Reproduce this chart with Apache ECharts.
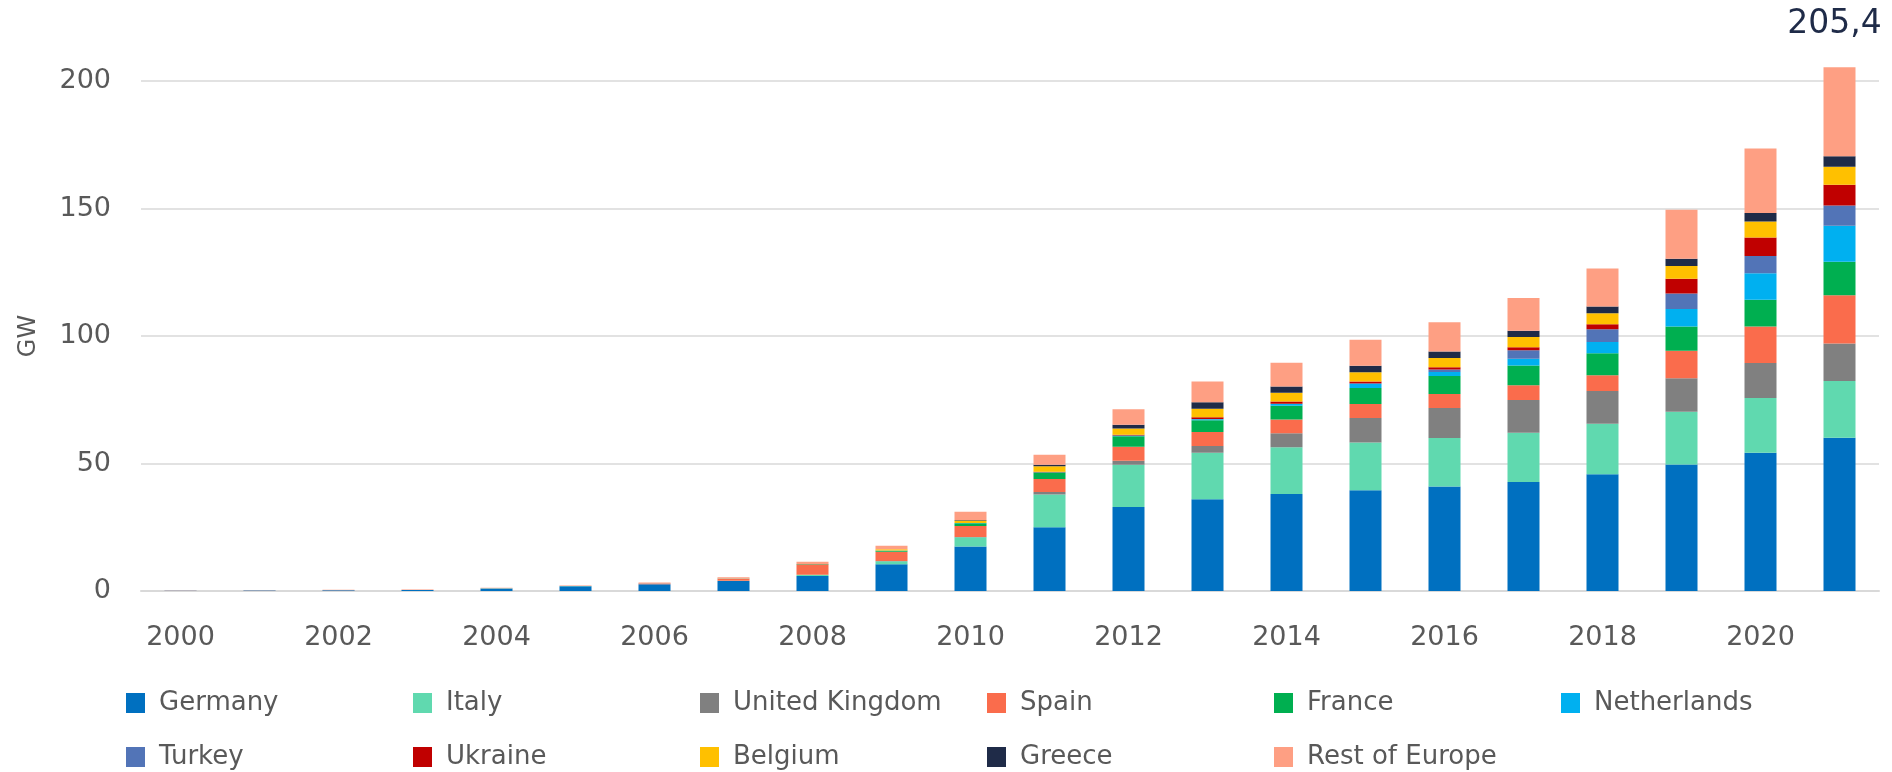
<!DOCTYPE html>
<html>
<head>
<meta charset="utf-8">
<script src="https://cdn.jsdelivr.net/npm/echarts@6/dist/echarts.min.js"></script>
<style>html,body{margin:0;padding:0;background:#fff}#c{width:1892px;height:772px}</style>
</head>
<body>
<div id="c"></div>
<script>
const years = ['2000','2001','2002','2003','2004','2005','2006','2007','2008','2009','2010','2011','2012','2013','2014','2015','2016','2017','2018','2019','2020','2021'];
const germany     = [0.08,0.18,0.3,0.4,1.0,1.9,2.6,3.9,5.9,10.5,17.5,25.0,32.9,36.0,38.0,39.5,41.0,42.7,45.8,49.6,54.2,60.1];
const italy       = [0.02,0.02,0.02,0.03,0.03,0.04,0.05,0.1,0.5,1.2,3.6,12.8,16.6,18.2,18.4,18.7,19.0,19.4,19.8,20.7,21.5,22.3];
const uk          = [0,0,0,0.01,0.01,0.01,0.01,0.02,0.02,0.03,0.1,1.0,1.6,2.7,5.5,9.6,11.8,12.8,12.8,13.1,13.7,14.7];
const spain       = [0.01,0.01,0.02,0.03,0.05,0.06,0.2,0.8,3.9,3.7,4.3,5.1,5.5,5.5,5.4,5.5,5.5,5.8,6.2,10.8,14.3,18.9];
const france      = [0,0,0,0.01,0.01,0.01,0.02,0.05,0.1,0.4,1.1,2.6,4.1,4.6,5.3,6.3,7.0,7.7,8.6,9.5,10.5,13.1];
const netherlands = [0,0,0,0.01,0.01,0.01,0.01,0.01,0.01,0.02,0.1,0.1,0.3,0.4,0.8,1.6,1.6,2.7,4.4,6.9,10.4,14.1];
const turkey      = [0,0,0,0,0,0,0,0,0,0,0,0,0,0.01,0.04,0.25,1.0,3.3,5.0,6.1,6.8,8.0];
const ukraine     = [0,0,0,0,0,0,0,0,0,0,0.01,0.2,0.3,0.7,0.9,0.7,0.8,1.2,2.0,5.8,7.2,8.1];
const belgium     = [0,0,0,0,0,0,0,0.02,0.1,0.5,0.9,2.1,2.4,3.4,3.4,3.6,3.7,4.0,4.3,5.0,6.3,7.1];
const greece      = [0,0,0,0,0,0,0.01,0.01,0.02,0.05,0.2,0.6,1.5,2.5,2.5,2.6,2.5,2.5,2.7,2.8,3.3,4.1];
const restEurope  = [0.1,0.1,0.12,0.12,0.15,0.15,0.4,0.5,0.9,1.3,3.3,3.9,6.1,8.1,9.3,10.2,11.5,12.8,14.9,19.2,25.3,34.9];
const yTicks = [0,50,100,150,200];

const seriesDefs = [
  ['Germany', germany, '#0070C0'],
  ['Italy', italy, '#60D9AF'],
  ['United Kingdom', uk, '#808080'],
  ['Spain', spain, '#FA6C4C'],
  ['France', france, '#00AF50'],
  ['Netherlands', netherlands, '#00B0F0'],
  ['Turkey', turkey, '#5274B7'],
  ['Ukraine', ukraine, '#C00000'],
  ['Belgium', belgium, '#FFC000'],
  ['Greece', greece, '#1F2B48'],
  ['Rest of Europe', restEurope, '#FE9F83']
];

const lastIdx = years.length - 1;
const total = seriesDefs.reduce((s, d) => s + d[1][lastIdx], 0);
const totalText = total.toFixed(1).replace('.', ',');

const FONT = 'DejaVu Sans';
const series = seriesDefs.map((d, si) => ({
  name: d[0],
  type: 'bar',
  stack: 'total',
  barWidth: 32,
  clip: false,
  itemStyle: { color: d[2] },
  emphasis: { disabled: true },
  data: d[1].map((v, i) => {
    if (si === seriesDefs.length - 1 && i === lastIdx) {
      return { value: v, label: { show: true, position: 'top', distance: 26, offset: [-5, 0], formatter: totalText,
        fontFamily: FONT, fontSize: 33, color: '#1F2B48' } };
    }
    return v;
  })
}));

const chart = echarts.init(document.getElementById('c'), null, { renderer: 'canvas' });
chart.setOption({
  animation: false,
  backgroundColor: '#fff',
  grid: { left: 141, right: 13, top: 81, bottom: 181 },
  legend: {
    left: 121, top: 676, width: 1760,
    icon: 'rect', itemWidth: 19, itemHeight: 20, itemGap: 10,
    data: seriesDefs.map(d => d[0]),
    textStyle: { fontFamily: FONT, fontSize: 26, color: '#595959', width: 244, lineHeight: 44, padding: [0,0,0,9] }
  },
  xAxis: {
    type: 'category', data: years,
    axisLine: { lineStyle: { color: '#D9D9D9', width: 2 } },
    axisTick: { show: false },
    axisLabel: { interval: 1, margin: 33, fontFamily: FONT, fontSize: 27, color: '#595959' }
  },
  yAxis: {
    type: 'value', min: yTicks[0], max: yTicks[yTicks.length - 1], interval: 50,
    name: 'GW', nameLocation: 'middle', nameRotate: 90, nameGap: 100,
    nameTextStyle: { fontFamily: FONT, fontSize: 24, color: '#595959' },
    axisLine: { show: false }, axisTick: { show: false },
    splitLine: { lineStyle: { color: '#D9D9D9', width: 1.5 } },
    axisLabel: { margin: 30, fontFamily: FONT, fontSize: 27, color: '#595959' }
  },
  series: series
});
</script>
</body>
</html>
